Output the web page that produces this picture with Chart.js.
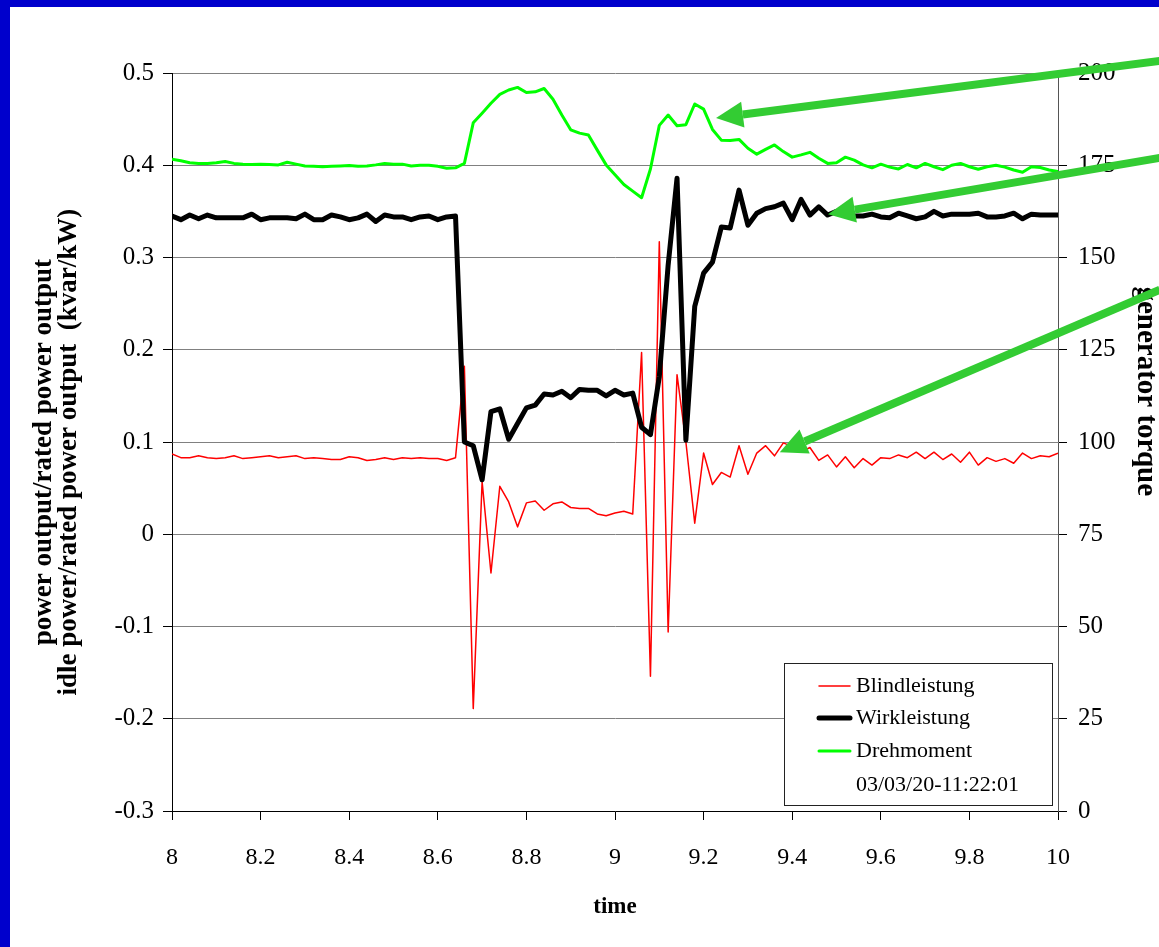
<!DOCTYPE html>
<html>
<head>
<meta charset="utf-8">
<script src="https://cdn.jsdelivr.net/npm/chart.js@4/dist/chart.umd.min.js"></script>
<style>
	html, body { margin: 0; padding: 0; background: #0000cc; overflow: hidden; }
	#wrap { position: absolute; left: 10px; top: 7px; width: 1149px; height: 940px; background: #fff; }
</style>
</head>
<body>
<div id="wrap"><canvas id="lineChart"></canvas></div>
<script>
// time axis (one sample every 0.02)
const time = [
	8.00, 8.02, 8.04, 8.06, 8.08, 8.10, 8.12, 8.14, 8.16, 8.18,
	8.20, 8.22, 8.24, 8.26, 8.28, 8.30, 8.32, 8.34, 8.36, 8.38,
	8.40, 8.42, 8.44, 8.46, 8.48, 8.50, 8.52, 8.54, 8.56, 8.58,
	8.60, 8.62, 8.64, 8.66, 8.68, 8.70, 8.72, 8.74, 8.76, 8.78,
	8.80, 8.82, 8.84, 8.86, 8.88, 8.90, 8.92, 8.94, 8.96, 8.98,
	9.00, 9.02, 9.04, 9.06, 9.08, 9.10, 9.12, 9.14, 9.16, 9.18,
	9.20, 9.22, 9.24, 9.26, 9.28, 9.30, 9.32, 9.34, 9.36, 9.38,
	9.40, 9.42, 9.44, 9.46, 9.48, 9.50, 9.52, 9.54, 9.56, 9.58,
	9.60, 9.62, 9.64, 9.66, 9.68, 9.70, 9.72, 9.74, 9.76, 9.78,
	9.80, 9.82, 9.84, 9.86, 9.88, 9.90, 9.92, 9.94, 9.96, 9.98,
	10.00
];

// Blindleistung (kvar/kW, left axis)
const blindleistung = [
	0.087, 0.083, 0.083, 0.085, 0.083, 0.082, 0.083, 0.085, 0.082, 0.083,
	0.084, 0.085, 0.083, 0.084, 0.085, 0.082, 0.083, 0.082, 0.081, 0.081,
	0.084, 0.083, 0.080, 0.081, 0.083, 0.081, 0.083, 0.082, 0.083, 0.082,
	0.082, 0.080, 0.083, 0.182, -0.189, 0.057, -0.042, 0.052, 0.035, 0.008,
	0.034, 0.036, 0.026, 0.033, 0.035, 0.029, 0.028, 0.028, 0.022, 0.020,
	0.023, 0.025, 0.022, 0.197, -0.154, 0.317, -0.106, 0.173, 0.100, 0.012,
	0.088, 0.054, 0.067, 0.062, 0.096, 0.065, 0.088, 0.096, 0.085, 0.099,
	0.095, 0.089, 0.094, 0.080, 0.086, 0.073, 0.084, 0.072, 0.082, 0.075,
	0.083, 0.082, 0.086, 0.083, 0.089, 0.082, 0.089, 0.081, 0.087, 0.078,
	0.089, 0.075, 0.083, 0.079, 0.082, 0.077, 0.088, 0.082, 0.085, 0.084,
	0.088
];

// Wirkleistung (kW/kW, left axis)
const wirkleistung = [
	0.345, 0.341, 0.346, 0.342, 0.346, 0.343, 0.343, 0.343, 0.343, 0.347,
	0.341, 0.343, 0.343, 0.343, 0.342, 0.347, 0.341, 0.341, 0.346, 0.344,
	0.341, 0.343, 0.347, 0.339, 0.346, 0.344, 0.344, 0.341, 0.344, 0.345,
	0.341, 0.344, 0.345, 0.100, 0.096, 0.059, 0.133, 0.136, 0.103, 0.120,
	0.137, 0.140, 0.152, 0.151, 0.155, 0.148, 0.157, 0.156, 0.156, 0.150,
	0.156, 0.151, 0.153, 0.116, 0.108, 0.171, 0.292, 0.386, 0.102, 0.247,
	0.283, 0.295, 0.333, 0.332, 0.373, 0.335, 0.348, 0.353, 0.355, 0.359,
	0.341, 0.363, 0.346, 0.355, 0.346, 0.350, 0.348, 0.345, 0.345, 0.347,
	0.344, 0.343, 0.348, 0.345, 0.342, 0.344, 0.350, 0.345, 0.347, 0.347,
	0.347, 0.348, 0.344, 0.344, 0.345, 0.348, 0.342, 0.347, 0.346, 0.346,
	0.346
];

// Drehmoment (generator torque, right axis)
const drehmoment = [
	176.6, 176.2, 175.7, 175.5, 175.5, 175.7, 176.0, 175.5, 175.3, 175.2,
	175.3, 175.2, 175.1, 175.8, 175.3, 174.8, 174.7, 174.6, 174.7, 174.8,
	174.9, 174.7, 174.8, 175.1, 175.5, 175.3, 175.3, 174.8, 175.0, 175.0,
	174.7, 174.2, 174.3, 175.5, 186.5, 189.1, 191.8, 194.2, 195.4, 196.1,
	194.7, 194.9, 195.8, 192.9, 188.6, 184.6, 183.7, 183.2, 179.1, 175.1,
	172.4, 169.8, 168.0, 166.2, 174.0, 185.8, 188.6, 185.7, 186.0, 191.6,
	190.2, 184.7, 181.8, 181.7, 182.0, 179.6, 178.0, 179.3, 180.5, 178.7,
	177.2, 177.8, 178.5, 176.9, 175.5, 175.7, 177.2, 176.4, 175.1, 174.3,
	175.3, 174.5, 174.0, 175.2, 174.3, 175.5, 174.6, 173.8, 175.0, 175.5,
	174.6, 173.9, 174.6, 175.0, 174.5, 173.7, 173.1, 174.6, 174.4, 173.7,
	173.3
];

// tick labels
const xTicks = [8, 8.2, 8.4, 8.6, 8.8, 9, 9.2, 9.4, 9.6, 9.8, 10];
const yTicks = [-0.3, -0.2, -0.1, 0, 0.1, 0.2, 0.3, 0.4, 0.5];
const y2Ticks = [0, 25, 50, 75, 100, 125, 150, 175, 200];

const stamp = '03/03/20-11:22:01';

// green arrows: tip and tail in data units
const arrowAxis = ['y2', 'y', 'y'];
const arrowTipX = [9.228, 9.481, 9.372];
const arrowTipY = [187.8, 0.347, 0.089];
const arrowTailX = [10.23, 10.23, 10.23];
const arrowTailY = [203.3, 0.408, 0.265];

const serif = '"Liberation Serif", "Times New Roman", serif';

document.addEventListener('DOMContentLoaded', function() {
	const redColor = '#ff0000',
		blackColor = '#000000',
		greenColor = '#00ff00',
		arrowColor = '#33cc33',
		gridColor = '#808080';

	// legend box in the lower right corner of the plot
	const boxLegend = {
		id: 'boxLegend',
		afterDraw(chart) {
			const {ctx, chartArea} = chart;
			const w = 269, h = 143;
			const x0 = chartArea.right - 5 - w,
				y0 = chartArea.bottom - 5 - h;
			const rows = [23, 55, 88, 122];
			ctx.save();
			ctx.fillStyle = '#fff';
			ctx.fillRect(x0, y0, w, h);
			ctx.strokeStyle = '#222';
			ctx.lineWidth = 1;
			ctx.strokeRect(x0 + 0.5, y0 + 0.5, w - 1, h - 1);
			ctx.font = '22px ' + serif;
			ctx.textBaseline = 'middle';
			ctx.lineCap = 'round';
			chart.data.datasets.forEach(function(ds, i) {
				const y = y0 + rows[i];
				ctx.strokeStyle = ds.borderColor;
				ctx.lineWidth = ds.borderWidth;
				ctx.beginPath();
				ctx.moveTo(x0 + 35, y);
				ctx.lineTo(x0 + 66, y);
				ctx.stroke();
				ctx.fillStyle = '#000';
				ctx.fillText(ds.label, x0 + 72, y);
			});
			ctx.fillText(stamp, x0 + 72, y0 + rows[3]);
			ctx.restore();
		}
	};

	// annotation arrows coming in from the right edge
	const arrows = {
		id: 'arrows',
		afterDraw(chart) {
			const ctx = chart.ctx,
				xs = chart.scales.x;
			ctx.save();
			ctx.strokeStyle = arrowColor;
			ctx.fillStyle = arrowColor;
			ctx.lineWidth = 8;
			for (let i = 0; i < arrowAxis.length; i++) {
				const ys = chart.scales[arrowAxis[i]];
				const tx = xs.getPixelForValue(arrowTipX[i]),
					ty = ys.getPixelForValue(arrowTipY[i]),
					sx = xs.getPixelForValue(arrowTailX[i]),
					sy = ys.getPixelForValue(arrowTailY[i]);
				const a = Math.atan2(ty - sy, tx - sx),
					len = 27, half = 13;
				const bx = tx - len * Math.cos(a),
					by = ty - len * Math.sin(a);
				ctx.beginPath();
				ctx.moveTo(sx, sy);
				ctx.lineTo(bx, by);
				ctx.stroke();
				ctx.beginPath();
				ctx.moveTo(tx, ty);
				ctx.lineTo(bx + half * Math.sin(a), by - half * Math.cos(a));
				ctx.lineTo(bx - half * Math.sin(a), by + half * Math.cos(a));
				ctx.closePath();
				ctx.fill();
			}
			ctx.restore();
		}
	};

	const lineChart = document.getElementById('lineChart');
	new Chart(lineChart, {
		type: 'line',
		data: {
			labels: time,
			datasets: [
				{
					label: 'Blindleistung',
					data: blindleistung,
					yAxisID: 'y',
					borderColor: redColor,
					borderWidth: 1.5,
					order: 3
				},
				{
					label: 'Wirkleistung',
					data: wirkleistung,
					yAxisID: 'y',
					borderColor: blackColor,
					borderWidth: 5,
					order: 2
				},
				{
					label: 'Drehmoment',
					data: drehmoment,
					yAxisID: 'y2',
					borderColor: greenColor,
					borderWidth: 3,
					order: 1
				}
			]
		},
		options: {
			responsive: true,
			maintainAspectRatio: false,
			animation: false,
			layout: {
				padding: { top: 66, left: 0, right: 0, bottom: 0 }
			},
			elements: {
				point: { radius: 0 },
				line: { tension: 0, borderJoinStyle: 'round', fill: false }
			},
			plugins: {
				legend: { display: false },
				tooltip: { enabled: false }
			},
			scales: {
				x: {
					type: 'linear',
					min: 8,
					max: 10,
					afterBuildTicks: function(scale) {
						scale.ticks = xTicks.map(v => ({ value: v }));
					},
					afterFit: function(scale) {
						scale.height = 136;
					},
					grid: {
						drawOnChartArea: false,
						tickLength: 9,
						tickColor: '#000'
					},
					border: { color: '#000' },
					ticks: {
						color: '#000',
						padding: 23,
						maxRotation: 0,
						font: { family: serif, size: 24 },
						callback: v => String(v)
					},
					title: {
						display: true,
						text: 'time',
						color: '#000',
						padding: { top: 0, bottom: 26 },
						font: { family: serif, size: 23, weight: 'bold' }
					}
				},
				y: {
					position: 'left',
					min: -0.3,
					max: 0.5,
					afterBuildTicks: function(scale) {
						scale.ticks = yTicks.map(v => ({ value: v }));
					},
					afterFit: function(scale) {
						scale.width = 162;
					},
					grid: {
						color: gridColor,
						tickLength: 9,
						tickColor: '#000'
					},
					border: { color: '#000' },
					ticks: {
						color: '#000',
						padding: 9,
						font: { family: serif, size: 25 },
						callback: v => String(v)
					},
					title: {
						display: true,
						text: ['power output/rated power output   ', 'idle power/rated power output  (kvar/kW)   '],
						color: '#000',
						padding: { top: 22, bottom: 0 },
						font: { family: serif, size: 27, weight: 'bold', lineHeight: '25px' }
					}
				},
				y2: {
					position: 'right',
					min: 0,
					max: 200,
					afterBuildTicks: function(scale) {
						scale.ticks = y2Ticks.map(v => ({ value: v }));
					},
					afterFit: function(scale) {
						scale.width = 101;
					},
					grid: {
						drawOnChartArea: false,
						tickLength: 9,
						color: '#555',
						tickColor: '#000'
					},
					border: { color: '#555' },
					ticks: {
						color: '#000',
						padding: 11,
						font: { family: serif, size: 25 },
						callback: v => String(v)
					},
					title: {
						display: true,
						text: 'generator torque              ',
						color: '#000',
						padding: { top: 0, bottom: 0 },
						font: { family: serif, size: 29, weight: 'bold', lineHeight: '28px' }
					}
				}
			}
		},
		plugins: [boxLegend, arrows]
	});
});
</script>
</body>
</html>
